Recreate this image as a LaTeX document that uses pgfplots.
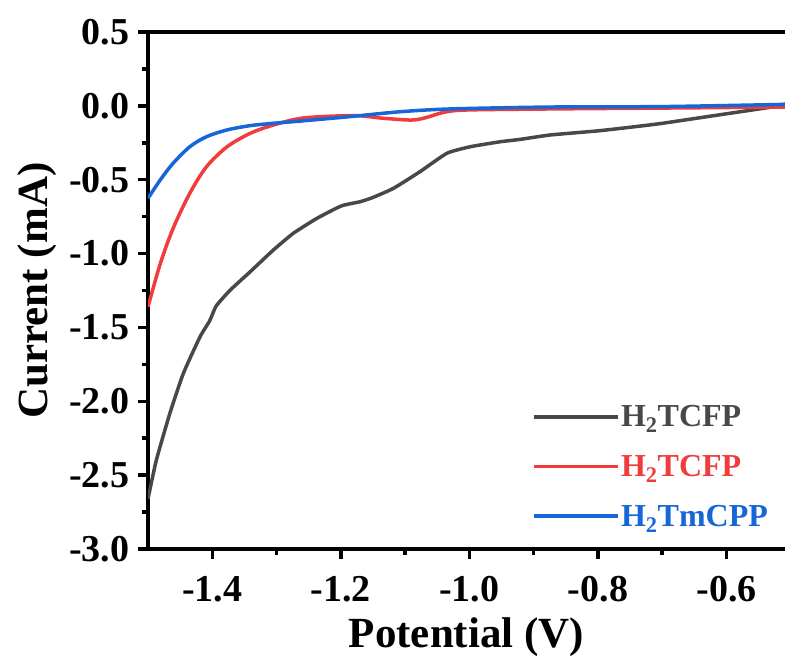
\documentclass[border=0pt]{standalone}
\usepackage{fontspec}
\setmainfont{Liberation Serif}
\usepackage{pgfplots}
\pgfplotsset{compat=1.18}
\definecolor{cgray}{RGB}{72,72,72}
\definecolor{cred}{RGB}{240,60,60}
\definecolor{cblue}{RGB}{22,102,216}
\begin{document}
\begin{tikzpicture}
\begin{axis}[
  scale only axis,
  width=637pt, height=517pt,
  xmin=-1.5, xmax=-0.509,
  ymin=-3.0, ymax=0.5,
  axis x line*=box, axis y line*=left,
  axis line style={-, line width=4pt, black},
  xtick={-1.4,-1.2,-1.0,-0.8,-0.6},
  ytick={-3.0,-2.5,-2.0,-1.5,-1.0,-0.5,0.0,0.5},
  minor x tick num=1, minor y tick num=1,
  xtick pos=bottom, ytick pos=left,
  tick align=outside,
  major tick length=10pt, minor tick length=6pt,
  every tick/.style={black, line width=3.5pt},
  every minor tick/.style={black, line width=3.5pt},
  /pgf/number format/assume math mode=true,
  /pgf/number format/.cd, fixed, fixed zerofill, precision=1, /pgfplots/.cd,
  ticklabel style={font=\bfseries\fontsize{38}{44}\selectfont},
  xticklabel style={yshift=-14pt},
  yticklabel style={xshift=-5pt},
  xlabel={Potential (V)}, ylabel={Current (mA)},
  label style={font=\bfseries\fontsize{43}{50}\selectfont},
  xlabel style={yshift=-8pt},
  ylabel style={yshift=6pt},
  legend cell align=left,
  legend style={draw=none, fill=none, inner sep=0pt,
    at={(axis cs:-0.902,-2.02)}, anchor=north west,
    font=\bfseries\fontsize{32}{36}\selectfont,
    row sep=25pt, nodes={inner sep=1pt}},
  /tikz/every even column/.append style={column sep=7pt},
  legend image code/.code={\draw[#1, line width=3.5pt] (0pt,0pt) -- (84pt,0pt);},
  clip=true,
]
\addplot[cgray, line width=3.5pt, smooth, tension=0.3] coordinates {
(-1.500,-2.660) (-1.487,-2.398) (-1.466,-2.082) (-1.445,-1.811) (-1.419,-1.563)
(-1.404,-1.455) (-1.394,-1.355) (-1.372,-1.247) (-1.341,-1.123) (-1.305,-0.976)
(-1.274,-0.863) (-1.237,-0.761) (-1.199,-0.677) (-1.170,-0.649) (-1.150,-0.620)
(-1.118,-0.558) (-1.077,-0.446) (-1.035,-0.321) (-0.999,-0.277) (-0.952,-0.243)
(-0.921,-0.227) (-0.874,-0.197) (-0.797,-0.168) (-0.708,-0.123)
(-0.630,-0.073) (-0.568,-0.033) (-0.527,-0.006) (-0.508,0.012)};
\addlegendentry{\textcolor{cgray}{H\textsubscript{2}TCFP}}
\addplot[cred, line width=3.5pt, smooth] coordinates {
(-1.500,-1.360) (-1.481,-1.070) (-1.461,-0.830) (-1.435,-0.592) (-1.409,-0.412)
(-1.377,-0.277) (-1.341,-0.186) (-1.305,-0.130) (-1.258,-0.082) (-1.180,-0.066)
(-1.134,-0.084) (-1.090,-0.096) (-1.068,-0.080) (-1.040,-0.044) (-1.004,-0.028)
(-0.874,-0.021) (-0.700,-0.015) (-0.509,-0.008)};
\addlegendentry{\textcolor{cred}{H\textsubscript{2}TCFP}}
\addplot[cblue, line width=3.5pt, smooth] coordinates {
(-1.500,-0.626) (-1.481,-0.502) (-1.461,-0.389) (-1.435,-0.277) (-1.409,-0.209)
(-1.377,-0.163) (-1.341,-0.134) (-1.305,-0.118) (-1.263,-0.103) (-1.186,-0.073)
(-1.108,-0.040) (-1.030,-0.021) (-0.874,-0.008) (-0.700,-0.005) (-0.509,0.010)};
\addlegendentry{\textcolor{cblue}{H\textsubscript{2}TmCPP}}
\end{axis}
\pgfresetboundingbox
\path (-148pt,-118pt) rectangle (637pt,549pt);
\end{tikzpicture}
\end{document}
